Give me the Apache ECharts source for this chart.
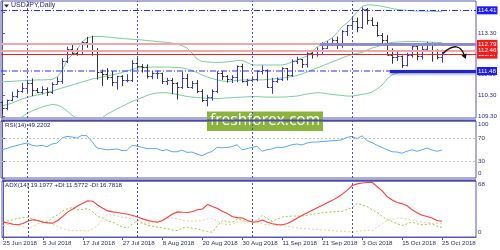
<!DOCTYPE html>
<html><head><meta charset="utf-8">
<script src="https://cdn.jsdelivr.net/npm/echarts@6.0.0/dist/echarts.min.js"></script>
<style>html,body{margin:0;padding:0;background:#fff}#c{width:500px;height:250px}</style>
</head><body><div id="c"></div>
<script>
// ---------- data ----------
const dateLabels = ['25 Jun 2018','5 Jul 2018','17 Jul 2018','27 Jul 2018','8 Aug 2018','20 Aug 2018','30 Aug 2018','11 Sep 2018','21 Sep 2018','3 Oct 2018','15 Oct 2018','25 Oct 2018'];
const labelBars = [0,8,16,24,32,40,48,56,64,72,80,88];
const monthStartBars = [5,27,50,70];
const priceTicks = [109.30,110.30,111.30,112.30,113.30,114.30];
const rsiTicks = [100,70,30,0];
const rsiLevels = [70,30];
const adxTicks = [68,0];
// horizontal levels: resistance top, red zone lines, support
const levelValues = [114.41,112.79,112.46,112.27,111.48];
const zoneStartBars = [63.6,77.6];
// [open, high, low, close]
const ohlc = [
[109.96,110.05,109.37,109.71],[109.71,110.10,109.58,110.07],[110.07,110.48,110.02,110.26],[110.26,110.59,110.18,110.49],[110.49,110.91,110.43,110.67],
[110.67,111.06,110.45,110.88],[110.88,111.12,110.27,110.58],[110.58,110.66,110.41,110.48],[110.48,110.74,110.35,110.63],[110.63,110.69,110.27,110.47],
[110.47,110.94,110.37,110.86],[110.86,111.18,110.83,111.00],[111.00,112.09,110.86,111.97],[111.97,112.65,111.86,112.54],[112.54,112.80,112.30,112.37],
[112.37,112.58,112.22,112.31],[112.31,112.92,112.27,112.89],[112.89,113.13,112.60,112.85],[112.85,113.18,112.22,112.48],[112.48,112.58,111.06,111.42],
[111.42,111.55,110.76,111.32],[111.32,111.62,111.05,111.18],[111.18,111.48,110.75,110.97],[110.97,111.25,110.58,111.24],[111.24,111.28,110.75,111.04],
[111.04,111.32,110.93,111.05],[111.05,112.00,110.95,111.86],[111.86,112.15,111.53,111.70],[111.70,111.81,111.40,111.69],[111.69,111.80,111.12,111.26],
[111.26,111.48,111.08,111.39],[111.39,111.49,111.09,111.39],[111.39,111.40,110.85,111.00],[111.00,111.15,110.80,111.05],[111.05,111.14,110.37,110.88],
[110.88,110.94,110.10,110.73],[110.73,111.45,110.62,111.15],[111.15,111.34,110.67,110.72],[110.72,111.00,110.62,110.92],[110.92,111.05,110.41,110.50],
[110.50,110.60,109.98,110.08],[110.08,110.33,109.77,110.20],[110.20,110.60,110.05,110.53],[110.53,111.47,110.41,111.37],[111.37,111.48,111.05,111.24],
[111.24,111.28,110.92,111.07],[111.07,111.28,110.90,111.19],[111.19,111.75,110.94,111.70],[111.70,111.83,110.92,111.00],[111.00,111.10,110.76,111.03],
[111.03,111.20,110.93,111.08],[111.08,111.50,110.98,111.47],[111.47,111.75,111.31,111.52],[111.52,111.56,110.67,110.72],[110.72,111.15,110.38,111.01],
[111.01,111.17,110.90,111.11],[111.11,111.66,111.00,111.62],[111.62,111.63,111.03,111.28],[111.28,112.04,111.20,111.97],[111.97,112.17,111.81,112.05],
[112.05,112.06,111.62,111.84],[111.84,112.38,111.65,112.34],[112.34,112.47,112.08,112.30],[112.30,112.62,112.17,112.49],[112.49,112.87,112.31,112.59],
[112.59,112.92,112.55,112.80],[112.80,113.06,112.71,112.97],[112.97,113.14,112.55,112.73],[112.73,113.45,112.60,113.41],[113.41,113.70,113.17,113.69],
[113.69,114.04,113.56,113.91],[113.91,114.06,113.35,113.60],[113.60,114.55,113.51,114.47],[114.47,114.52,113.72,113.93],[113.93,114.07,113.66,113.71],
[113.71,113.85,113.14,113.24],[113.24,113.31,112.76,113.00],[113.00,113.21,112.25,112.26],[112.26,112.57,111.83,112.16],[112.16,112.43,111.96,112.19],
[112.19,112.23,111.63,111.77],[111.77,112.36,111.70,112.27],[112.27,112.72,112.13,112.68],[112.68,112.70,112.00,112.21],[112.21,112.69,112.04,112.55],
[112.55,112.89,112.40,112.82],[112.82,112.85,111.93,112.44],[112.44,112.53,112.05,112.15],[112.15,112.51,111.88,112.40]
];
const bbUpper = [110.96,110.97,110.98,111.00,111.01,111.02,111.03,111.05,111.05,111.06,
111.07,111.19,111.48,112.01,112.25,112.50,112.88,113.07,113.14,113.15,
113.15,113.12,113.10,113.07,113.05,113.03,113.01,113.00,112.98,112.95,
112.93,112.90,112.88,112.86,112.83,112.78,112.71,112.59,112.35,112.06,
111.94,111.92,111.90,111.89,111.90,111.92,111.94,111.99,111.99,111.89,
111.77,111.77,111.77,111.77,111.77,111.77,111.77,111.82,111.92,112.01,
112.11,112.20,112.40,112.64,112.78,112.93,113.07,113.32,113.61,113.80,
114.04,114.33,114.60,114.67,114.67,114.64,114.60,114.55,114.50,114.45,
114.43,114.40,114.39,114.38,114.37,114.36,114.36,114.35,114.34];
const bbMiddle = [109.79,109.86,109.93,110.03,110.13,110.20,110.27,110.32,110.37,110.44,
110.51,110.59,110.66,110.73,110.80,110.88,110.95,111.02,111.09,111.14,
111.19,111.24,111.29,111.34,111.41,111.48,111.55,111.63,111.65,111.67,
111.67,111.67,111.67,111.67,111.66,111.65,111.63,111.58,111.50,111.41,
111.29,111.19,111.12,111.05,111.00,110.97,111.00,111.02,111.05,111.05,
111.05,111.05,111.05,111.07,111.09,111.12,111.14,111.17,111.22,111.26,
111.34,111.43,111.53,111.63,111.72,111.82,111.92,112.01,112.11,112.20,
112.28,112.33,112.37,112.49,112.59,112.65,112.74,112.81,112.86,112.88,
112.89,112.90,112.90,112.90,112.89,112.88,112.87,112.86,112.85];
const bbLower = [108.87,108.97,109.07,109.16,109.26,109.43,109.55,109.65,109.74,109.81,
109.86,109.84,109.74,109.55,109.35,109.16,109.02,108.92,108.87,109.02,
109.21,109.40,109.52,109.65,109.77,109.89,110.01,110.10,110.20,110.30,
110.37,110.42,110.43,110.43,110.39,110.35,110.30,110.25,110.22,110.20,
110.18,110.16,110.15,110.15,110.16,110.18,110.19,110.21,110.22,110.23,
110.24,110.24,110.23,110.22,110.22,110.22,110.22,110.23,110.25,110.27,
110.32,110.37,110.40,110.43,110.42,110.38,110.35,110.32,110.30,110.27,
110.27,110.30,110.35,110.39,110.47,110.61,110.80,111.09,111.29,111.38,
111.43,111.46,111.47,111.48,111.49,111.50,111.50,111.50,111.50];
const rsi = [49.6,52,55,57,59.5,61.4,57.5,56,57.4,55,
59.6,61.4,70,73,72,70,75,74,64,52.6,
51,49.5,50,51,48,48.5,57.4,56,53.8,51.5,
51.5,51.5,48,49.6,46,46,49,45,45.5,42,
39,43.5,46.5,53.8,53,53.5,55,58.5,49.6,51.5,
53.8,55.6,46.8,49.6,51,54,53.5,55.5,58.5,59.6,
58,61.4,63,63,64,64.5,65.5,66,67,71.3,
73,69,74,65.5,62,57.5,53.5,49.6,46,45.6,
43.5,47,49.6,46.8,49.6,52.6,49,46.8,49.22];
const adx = [18.1,17,15.5,14.8,16.5,19.5,21,20,18,17.2,
16.9,20,25,30.5,34,38,41,44,43.5,38.5,
35,31.7,30.5,29.7,28.5,27.6,26,24.3,22,20.2,
18.9,18,20,24,28,30.5,30,29.7,31,33,
34,39.6,37,34.6,31,28.4,24.5,23.5,23.1,20,
18.1,18.5,20.6,18,16.1,15,14.8,16.5,19.5,23,
26.4,29.5,32.5,35.5,38.5,41.5,44.5,48,52,57,
62.5,64.5,65.5,66.2,66.3,61,56,49,45,42,
40.5,38,33,29.5,26.5,25,23,20,19.2];
const plusDI = [18.1,19.5,21,22.5,23.5,24.3,21.5,20,19,18.9,
24,27,32,34.5,35.9,33,33.5,34.6,30.5,25,
23.1,19.5,18.1,15,12,11.1,16,20.2,17,14,
13,12,11,9.9,8.5,7.8,11,12,10.5,9.9,
7.8,6.5,5.8,14,20.2,18.5,18.1,22.2,20,18.1,
19,20.2,26.4,22,18.9,22,24.3,25,25.5,25.5,
25.5,26.4,27.5,28.5,29.7,30,30.5,31,31.3,33.5,
36,40.8,38.7,36.7,33,30,25,21,18.9,16,
14,16,18.1,16,14.8,15.5,16.1,13,11.58];
const minusDI = [14,15,16,14.5,13,11,13,16,17.5,18,
15.5,12.5,10,8.5,7.8,7.8,7.8,7,10,14,
22,27,26.5,25.5,24,23,21.5,18,16.1,17,
17.3,19,21.5,22.5,23,22,20.2,19.5,19,19.5,
20.2,22,22.5,19,16,14.8,15.5,18.1,18.5,18.9,
18,17.3,16,14.8,14.5,14.2,14,13,12,11,
10.3,9.9,9.5,9,8.7,8.3,7.8,7.2,6.8,6.6,
5.8,6.5,7.8,7.8,7.8,12,16,20,21.5,23.1,
22.5,22.2,20.5,18.9,18,17.3,16.8,16.3,16.78];
// arrow annotation path in (bar, price): start, cp1, cp2, end
const arrowPath = [[88.2,112.33],[90.3,112.80],[91.7,112.72],[92.4,112.28]];

// ---------- styling ----------
const FONT = '"Liberation Sans", Arial, sans-serif';
const FS = 6.2;
const AXC = '#2b2b7e';
const BORDER = '#5a5ab0';
const UP = '#3535cf', DOWN = '#333333';
const BB = '#7ccf9c';
const XMIN = -0.2, XMAX = 94.8;

const withIdx = arr => arr.map((v, i) => [i, v]);
const monthLines = (color) => monthStartBars.map(b => ({xAxis: b, label: {show: false}, lineStyle: {color: color, type: [2, 2], width: 1}}));

const chart = echarts.init(document.getElementById('c'), null, {renderer: 'canvas'});

const gridBase = {left: 1, right: 24, show: true, borderColor: BORDER, borderWidth: 1, backgroundColor: '#fff'};
function xAx(gi, showLabels) {
  return {
    type: 'value', gridIndex: gi, min: XMIN, max: XMAX,
    show: true,
    axisLine: {show: showLabels, lineStyle: {color: BORDER}},
    axisTick: showLabels ? {show: true, customValues: labelBars, length: 3, lineStyle: {color: BORDER}} : {show: false},
    axisLabel: showLabels ? {
      show: true, customValues: labelBars, align: 'left', margin: 3,
      fontSize: FS, fontFamily: FONT, color: AXC,
      formatter: v => dateLabels[labelBars.indexOf(Math.round(v))] || ''
    } : {show: false},
    splitLine: {show: false}
  };
}

const levelLabel = (bg, value) => ({
  show: true, position: 'end', distance: 1,
  formatter: () => value.toFixed(2),
  backgroundColor: bg, color: '#fff', padding: [1, 1, 0, 1],
  fontSize: FS, lineHeight: 7, fontFamily: FONT
});
const noLabel = {show: false};
const dashDot = () => ({color: '#2a2aff', width: 1, type: [6, 2, 1, 2]});
const zoneBlue = {color: '#8080d4', width: 3, type: 'solid', opacity: 0.85};
const supportBlue = {color: '#2626c0', width: 3, type: 'solid', shadowBlur: 3, shadowColor: 'rgba(40,40,160,0.6)', shadowOffsetY: 1};

const option = {
  animation: false,
  backgroundColor: '#fff',
  title: [
    {text: 'USDJPY,Daily', left: 11, top: 2, padding: 0, textStyle: {fontSize: 7, fontWeight: 'normal', color: '#1f1f70', fontFamily: FONT}},
    {text: 'RSI(14) 49.2202', left: 5, top: 122, padding: 0, textStyle: {fontSize: FS, fontWeight: 'normal', color: '#1f1f70', fontFamily: FONT}},
    {text: 'ADX(14) 19.1977 +DI:11.5772 -DI:16.7818', left: 5, top: 182, padding: 0, textStyle: {fontSize: FS, fontWeight: 'normal', color: '#1f1f70', fontFamily: FONT}}
  ],
  grid: [
    Object.assign({top: 1, height: 117}, gridBase),
    Object.assign({top: 121, height: 57}, gridBase),
    Object.assign({top: 181, height: 56}, gridBase)
  ],
  xAxis: [xAx(0, false), xAx(1, false), xAx(2, true)],
  yAxis: [
    {type: 'value', gridIndex: 0, position: 'right', min: 109.21, max: 114.86,
      splitLine: {show: false}, axisLine: {show: true, lineStyle: {color: BORDER}},
      axisTick: {show: true, customValues: priceTicks, length: 3, lineStyle: {color: BORDER}},
      axisLabel: {customValues: priceTicks, formatter: v => v.toFixed(2), fontSize: FS, fontFamily: FONT, color: AXC, margin: 2}},
    {type: 'value', gridIndex: 1, position: 'right', min: 0, max: 100,
      splitLine: {show: false}, axisLine: {show: true, lineStyle: {color: BORDER}},
      axisTick: {show: true, customValues: rsiTicks, length: 3, lineStyle: {color: BORDER}},
      axisLabel: {customValues: rsiTicks, fontSize: FS, fontFamily: FONT, color: AXC, margin: 2,
        formatter: v => v === 100 ? '{t|100}' : (v === 0 ? '{b|0}' : String(v)),
        rich: {t: {padding: [6, 0, 0, 0], fontSize: FS, fontFamily: FONT, color: AXC}, b: {padding: [0, 0, 9, 0], fontSize: FS, fontFamily: FONT, color: AXC}}}},
    {type: 'value', gridIndex: 2, position: 'right', min: 0, max: 68,
      splitLine: {show: false}, axisLine: {show: true, lineStyle: {color: BORDER}},
      axisTick: {show: true, customValues: adxTicks, length: 3, lineStyle: {color: BORDER}},
      axisLabel: {customValues: adxTicks, fontSize: FS, fontFamily: FONT, color: AXC, margin: 2,
        formatter: v => v === 68 ? '{t|68}' : '{b|0}',
        rich: {t: {padding: [6, 0, 0, 0], fontSize: FS, fontFamily: FONT, color: AXC}, b: {padding: [0, 0, 9, 0], fontSize: FS, fontFamily: FONT, color: AXC}}}}
  ],
  series: [
    {
      type: 'custom', xAxisIndex: 0, yAxisIndex: 0, silent: true, z: 3,
      data: ohlc.map((d, i) => [i, d[0], d[1], d[2], d[3]]),
      encode: {x: 0, y: [1, 2, 3, 4]},
      renderItem: function (params, api) {
        const x = api.value(0), o = api.value(1), h = api.value(2), l = api.value(3), c = api.value(4);
        const pH = api.coord([x, h]), pL = api.coord([x, l]), pO = api.coord([x, o]), pC = api.coord([x, c]);
        const px = Math.round(pH[0]) + 0.5;
        const col = c >= o ? UP : DOWN;
        const st = {stroke: col, lineWidth: 1};
        return {type: 'group', children: [
          {type: 'line', shape: {x1: px, y1: pH[1], x2: px, y2: pL[1]}, style: st},
          {type: 'line', shape: {x1: px - 2, y1: Math.round(pO[1]) + 0.5, x2: px, y2: Math.round(pO[1]) + 0.5}, style: st},
          {type: 'line', shape: {x1: px, y1: Math.round(pC[1]) + 0.5, x2: px + 2, y2: Math.round(pC[1]) + 0.5}, style: st}
        ]};
      }
    },
    {type: 'line', xAxisIndex: 0, yAxisIndex: 0, data: withIdx(bbUpper), symbol: 'none', silent: true, z: 2,
      lineStyle: {color: BB, width: 1},
      markLine: {silent: true, symbol: 'none', animation: false, z: 4,
        data: [
          ...monthLines('#4a4acb'),
          {yAxis: levelValues[0], lineStyle: dashDot(), label: levelLabel('#1c1cf0', levelValues[0])},
          {yAxis: levelValues[3], lineStyle: {color: '#ee2222', width: 1, type: 'solid'}, label: levelLabel('#ee1c1c', levelValues[3])},
          {yAxis: levelValues[2], lineStyle: {color: '#f4a6a6', width: 2, type: 'solid'}, label: levelLabel('#ee1c1c', levelValues[2])},
          {yAxis: levelValues[1], lineStyle: {color: '#f4a6a6', width: 2, type: 'solid'}, label: levelLabel('#ee1c1c', levelValues[1])},
          [{coord: [zoneStartBars[0], levelValues[1]], lineStyle: zoneBlue, label: noLabel},
           {coord: [XMAX, levelValues[1]], lineStyle: zoneBlue, label: noLabel}]
        ]}},
    {type: 'line', xAxisIndex: 0, yAxisIndex: 0, data: withIdx(bbMiddle), symbol: 'none', silent: true, z: 2, lineStyle: {color: BB, width: 1}},
    {type: 'line', xAxisIndex: 0, yAxisIndex: 0, data: withIdx(bbLower), symbol: 'none', silent: true, z: 2, lineStyle: {color: BB, width: 1},
      markLine: {silent: true, symbol: 'none', animation: false, z: 5,
        data: [[{coord: [zoneStartBars[1], levelValues[4]], lineStyle: supportBlue, label: levelLabel('#1c1cf0', levelValues[4])},
                {coord: [XMAX, levelValues[4]], lineStyle: supportBlue, label: levelLabel('#1c1cf0', levelValues[4])}]]}},
    // support level, dash-dot part (drawn as a flat line through the value axis)
    {type: 'line', xAxisIndex: 0, yAxisIndex: 0, data: [[XMIN, levelValues[4]], [zoneStartBars[1], levelValues[4]]],
      symbol: 'none', silent: true, z: 4, itemStyle: {color: '#2a2aff'}, lineStyle: dashDot()},
    {type: 'line', xAxisIndex: 1, yAxisIndex: 1, data: withIdx(rsi), symbol: 'none', silent: true, lineStyle: {color: '#58a8ff', width: 1},
      markLine: {silent: true, symbol: 'none', animation: false, label: noLabel,
        data: [
          ...rsiLevels.map(v => ({yAxis: v, label: noLabel, lineStyle: {color: '#c4c4c4', type: [2, 2], width: 1}})),
          ...monthLines('#4a4acb')
        ]}},
    {type: 'line', xAxisIndex: 2, yAxisIndex: 2, data: withIdx(adx), symbol: 'none', silent: true, z: 4, lineStyle: {color: '#ff3c3c', width: 1.1},
      markLine: {silent: true, symbol: 'none', animation: false, label: noLabel, data: monthLines('#4a4acb')}},
    {type: 'line', xAxisIndex: 2, yAxisIndex: 2, data: withIdx(plusDI), symbol: 'none', silent: true, lineStyle: {color: '#9acd32', width: 1, type: [2, 2]}},
    {type: 'line', xAxisIndex: 2, yAxisIndex: 2, data: withIdx(minusDI), symbol: 'none', silent: true, lineStyle: {color: '#f6c9a6', width: 1, type: [2, 2]}}
  ]
};
chart.setOption(option);

// ---------- decorations placed via the chart's own coordinate system ----------
const P = pt => chart.convertToPixel({xAxisIndex: 0, yAxisIndex: 0}, pt);
const a0 = P(arrowPath[0]), a1 = P(arrowPath[1]), a2 = P(arrowPath[2]), a3 = P(arrowPath[3]);
let dx = a3[0] - a2[0], dy = a3[1] - a2[1];
const dl = Math.sqrt(dx * dx + dy * dy); dx /= dl; dy /= dl;
const nx = -dy, ny = dx;
const tip = [a3[0] + 5 * dx, a3[1] + 5 * dy];
const gRsiTop = chart.convertToPixel({xAxisIndex: 1, yAxisIndex: 1}, [XMIN, 100]);
const gAdxTop = chart.convertToPixel({xAxisIndex: 2, yAxisIndex: 2}, [XMIN, 68]);
const gRight = chart.convertToPixel({xAxisIndex: 2, yAxisIndex: 2}, [XMAX, 0]);
chart.setOption({
  graphic: [
    {type: 'polygon', z: 10, silent: true, shape: {points: [[4, 4.5], [9, 4.5], [6.5, 7.5]]}, style: {fill: '#1f1f70'}},
    {type: 'rect', z: 10, silent: true, shape: {x: gRsiTop[0], y: gRsiTop[1] - 1.5, width: gRight[0] - gRsiTop[0], height: 2}, style: {fill: '#4b4ba8'}},
    {type: 'rect', z: 10, silent: true, shape: {x: gAdxTop[0], y: gAdxTop[1] - 1.5, width: gRight[0] - gAdxTop[0], height: 2}, style: {fill: '#4b4ba8'}},
    {type: 'bezierCurve', z: 20, silent: true,
      shape: {x1: a0[0], y1: a0[1], cpx1: a1[0], cpy1: a1[1], cpx2: a2[0], cpy2: a2[1], x2: a3[0], y2: a3[1]},
      style: {stroke: '#111', lineWidth: 1.4, fill: null}},
    {type: 'polygon', z: 20, silent: true,
      shape: {points: [tip, [a3[0] + 2.8 * nx, a3[1] + 2.8 * ny], [a3[0] - 2.8 * nx, a3[1] - 2.8 * ny]]},
      style: {fill: '#111'}},
    {type: 'group', z: 30, silent: true, left: 207, top: 111.5, children: [
      {type: 'rect', shape: {x: 0, y: 0, width: 116, height: 19.5}, style: {fill: '#8bb43d'}},
      {type: 'text', x: 58, y: 9.2, style: {text: 'freshforex.com', fill: '#fff', font: '15.5px "Open Sans", sans-serif', align: 'center', verticalAlign: 'middle'}}
    ]}
  ]
});
</script>
</body></html>
